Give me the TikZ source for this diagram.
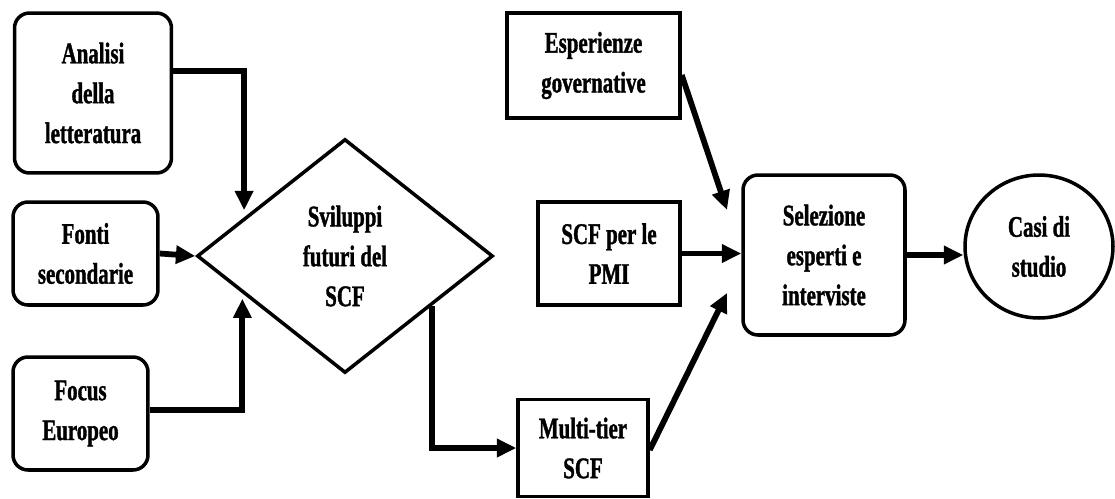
\documentclass[tikz,border=0pt]{standalone}
\usepackage{fontspec}
\setmainfont[FakeStretch=0.7,FakeBold=1.2]{Liberation Serif}
\usetikzlibrary{arrows.meta,shapes.geometric}

\begin{document}
\begin{tikzpicture}[x=0.02cm,y=-0.02cm,
  txt/.style={font=\bfseries\fontsize{17pt}{22.7pt}\selectfont,align=center,inner sep=0pt},
  rbox/.style={txt,draw,line width=2pt,rounded corners=0.3cm},
  sbox/.style={txt,draw,line width=2pt},
  arr/.style={line width=3.3pt,-{Triangle[length=11pt,width=10pt]}}]
  \useasboundingbox (0,0) rectangle (1115,498);

  % inputs on the left
  \node[rbox,minimum width=3.14cm,minimum height=3.2cm] (ana) at (93,93) {Analisi\\della\\letteratura};
  \node[rbox,minimum width=2.9cm,minimum height=2.06cm] (fon) at (85.5,253.5) {Fonti\\secondarie};
  \node[rbox,minimum width=2.7cm,minimum height=2.26cm] (foc) at (80.5,413.5) {Focus\\Europeo};

  % decision
  \node[txt,draw,line width=2pt,shape=diamond,minimum width=5.92cm,minimum height=4.68cm] (dia) at (345,256) {Sviluppi\\futuri del\\SCF};

  % middle column
  \node[sbox,minimum width=3.46cm,minimum height=2.1cm] (esp) at (593.5,65.5) {Esperienze\\governative};
  \node[sbox,minimum width=2.84cm,minimum height=2.06cm] (pmi) at (609,253.5) {SCF per le\\PMI};
  \node[sbox,minimum width=2.6cm,minimum height=1.94cm] (mul) at (583,448) {Multi-tier\\SCF};

  % outputs
  \node[rbox,minimum width=3.24cm,minimum height=3.2cm] (sel) at (824,255) {Selezione\\esperti e\\interviste};
  \node[txt,draw,line width=2pt,ellipse,minimum width=2.96cm,minimum height=2.86cm] (cas) at (1039,246.5) {Casi di\\studio};

  % arrow ends that stop short of the selection box
  \coordinate (selA) at (727,210);
  \coordinate (selB) at (727,293);

  % connectors
  \draw[arr,shorten >=4pt] ([yshift=0.44cm]ana.east) -| (dia.159);
  \draw[arr] (fon.east) -- (dia.west);
  \draw[arr,shorten >=3pt] ([yshift=0.07cm]foc.east) -| (dia.200);
  \draw[arr] (dia.-30) |- (mul.west);
  \draw[arr] ([yshift=-0.19cm]esp.east) -- (selA);
  \draw[arr] (pmi.east) -- (sel.west |- pmi.east);
  \draw[arr] ([yshift=-0.04cm]mul.east) -- (selB);
  \draw[arr] (sel.east) -- (cas.west |- sel.east);
\end{tikzpicture}
\end{document}
